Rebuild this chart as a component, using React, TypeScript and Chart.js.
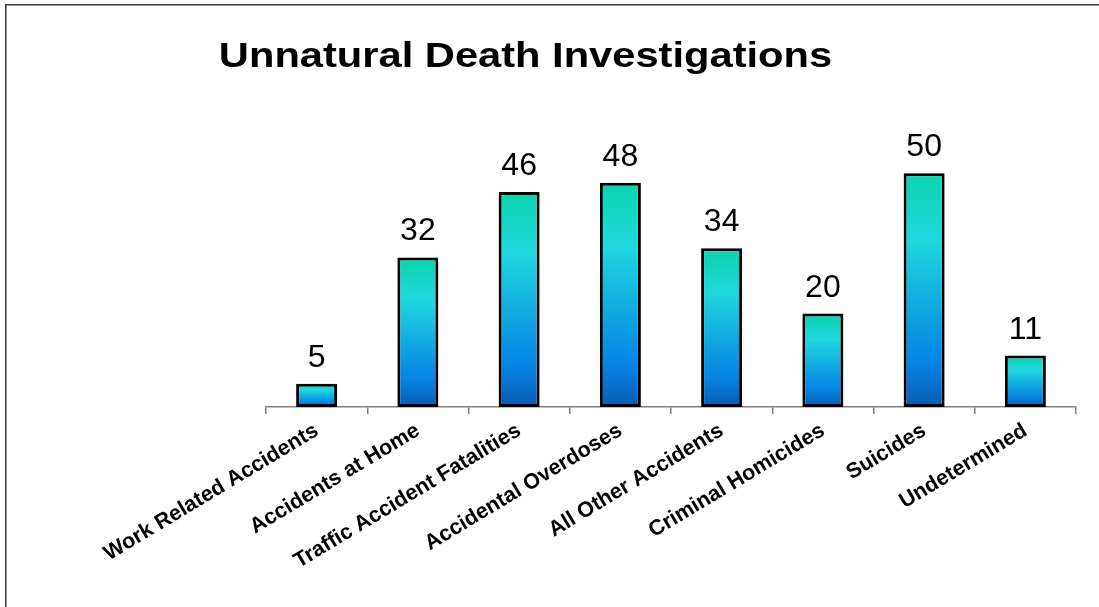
import React, { useEffect, useRef } from 'react';
import { Chart, registerables } from 'chart.js';

Chart.register(...registerables);

const titleText = 'Unnatural Death Investigations';
const categories = [
  'Work Related Accidents',
  'Accidents at Home',
  'Traffic Accident Fatalities',
  'Accidental Overdoses',
  'All Other Accidents',
  'Criminal Homicides',
  'Suicides',
  'Undetermined',
];
const values = [5, 32, 46, 48, 34, 20, 50, 11];
const yMin = 0;
const yMax = 55;

const FONT = '"Liberation Sans", Arial, Helvetica, sans-serif';

function barGradient(ctx: any) {
  const chart = ctx.chart;
  const y = chart.scales && chart.scales.y;
  const fallback = '#0a9ee0';
  if (!y || !chart.chartArea) return fallback;
  const v = typeof ctx.raw === 'number' ? ctx.raw : values[ctx.dataIndex];
  const top = y.getPixelForValue(v);
  const bot = y.getPixelForValue(0);
  if (!isFinite(top) || !isFinite(bot) || Math.abs(bot - top) < 1) return fallback;
  const g = chart.ctx.createLinearGradient(0, top, 0, bot);
  g.addColorStop(0, '#0bd4ac');
  g.addColorStop(0.28, '#21d7df');
  g.addColorStop(0.55, '#12acdf');
  g.addColorStop(0.8, '#0586e5');
  g.addColorStop(1, '#0a5bb3');
  return g;
}

const decorPlugin = {
  id: 'decor',
  beforeDraw(chart: any) {
    const c = chart.ctx;
    c.save();
    c.fillStyle = '#ffffff';
    c.fillRect(0, 0, chart.width, chart.height);
    c.strokeStyle = '#3a3a3a';
    c.lineWidth = 1.5;
    c.beginPath();
    c.moveTo(5.75, chart.height);
    c.lineTo(5.75, 4.75);
    c.lineTo(chart.width, 4.75);
    c.stroke();
    c.font = `bold 35px ${FONT}`;
    c.fillStyle = '#000000';
    c.textAlign = 'center';
    c.textBaseline = 'alphabetic';
    c.translate(525.5, 67);
    c.scale(1.19, 1);
    c.fillText(titleText, 0, 0);
    c.restore();
  },
  afterDatasetsDraw(chart: any) {
    const c = chart.ctx;
    const meta = chart.getDatasetMeta(0);
    c.save();
    c.font = `32px ${FONT}`;
    c.fillStyle = '#000000';
    c.textAlign = 'center';
    c.textBaseline = 'alphabetic';
    meta.data.forEach((bar: any, i: number) => {
      c.fillText(String(values[i]), bar.x, bar.y - 17);
    });
    c.restore();
  },
};

export default function App() {
  const canvasRef = useRef<HTMLCanvasElement | null>(null);

  useEffect(() => {
    const canvas = canvasRef.current;
    if (!canvas) return;
    const chart = new Chart(canvas, {
      type: 'bar',
      data: {
        labels: categories,
        datasets: [
          {
            data: values,
            backgroundColor: barGradient,
            borderColor: '#000000',
            borderWidth: 3,
            borderSkipped: false,
            categoryPercentage: 1,
            barPercentage: 0.405,
          },
        ],
      },
      options: {
        responsive: false,
        animation: false,
        devicePixelRatio: 1,
        layout: { padding: { left: 266, right: 23, top: 150, bottom: 0 } },
        plugins: {
          legend: { display: false },
          title: { display: false },
          tooltip: { enabled: false },
        },
        scales: {
          x: {
            offset: true,
            grid: {
              offset: true,
              drawOnChartArea: false,
              color: '#808080',
              tickLength: 7,
              lineWidth: 1.5,
            },
            border: { color: '#808080', width: 1.5 },
            ticks: {
              autoSkip: false,
              minRotation: 31,
              maxRotation: 31,
              color: '#000000',
              padding: 4,
              font: { family: FONT, size: 21.5, weight: 'bold' },
            },
            afterFit: (scale: any) => {
              scale.height = 200;
            },
          },
          y: { display: false, min: yMin, max: yMax },
        },
      },
      plugins: [decorPlugin],
    } as any);
    return () => chart.destroy();
  }, []);

  return (
    <div style={{ position: 'absolute', left: 0, top: 0, width: 1099, height: 607, background: '#fff' }}>
      <canvas ref={canvasRef} width={1099} height={607} style={{ display: 'block' }} />
    </div>
  );
}
